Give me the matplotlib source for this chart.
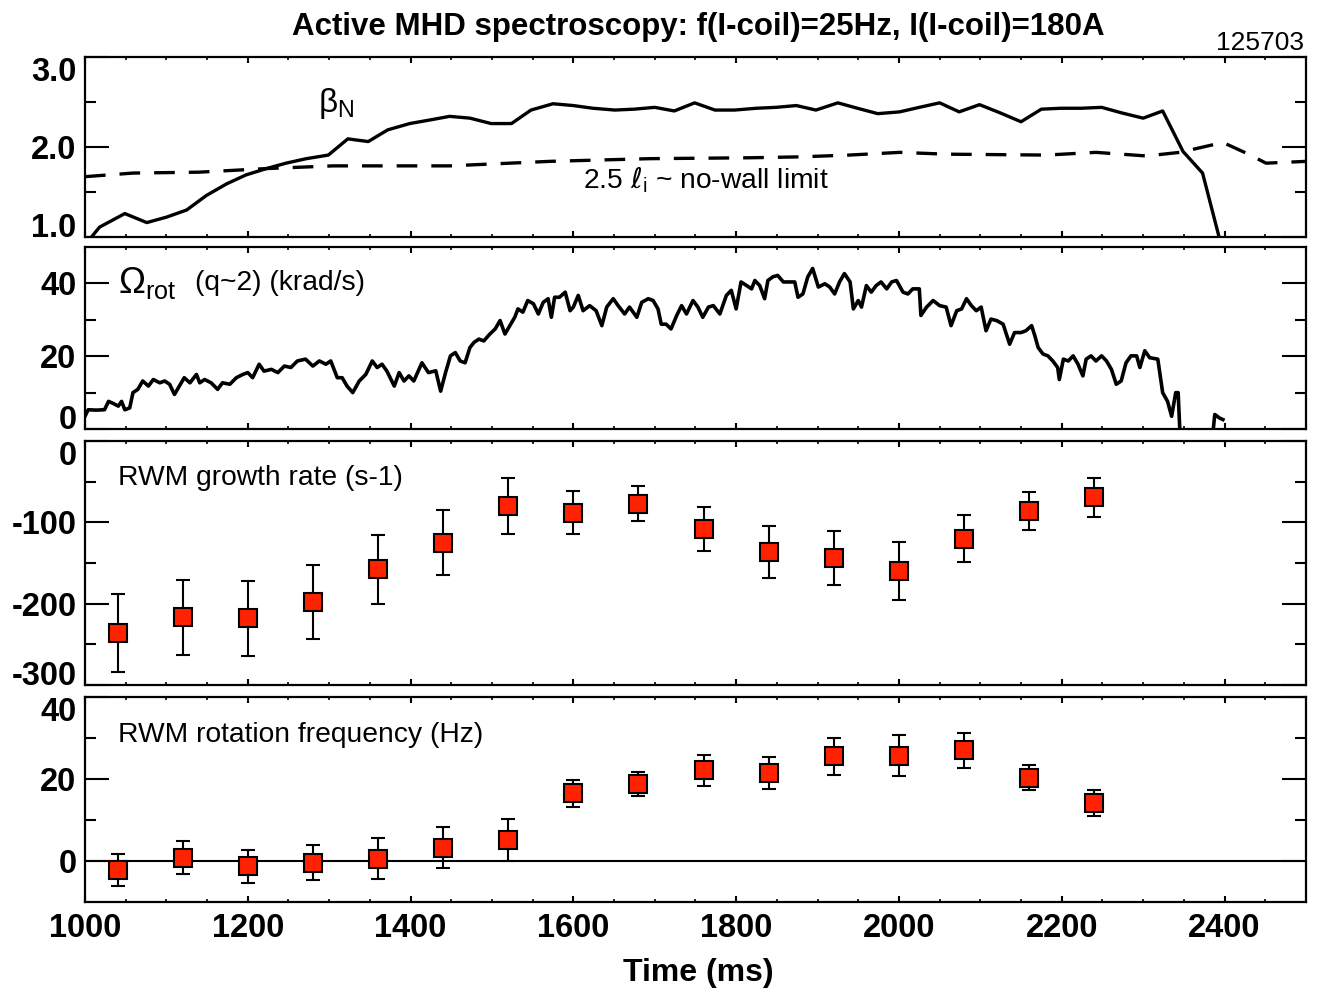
import matplotlib
matplotlib.use('agg')
import matplotlib.pyplot as plt
import numpy as np

# beta_N trace
beta_t = [1008, 1018, 1049, 1076, 1100, 1125, 1149, 1174, 1198, 1223, 1247, 1272, 1299,
          1323, 1348, 1372, 1399, 1424, 1448, 1473, 1499, 1524, 1548, 1575, 1600, 1624,
          1651, 1675, 1700, 1724, 1749, 1774, 1798, 1825, 1849, 1874, 1898, 1925, 1949,
          1974, 2001, 2025, 2050, 2074, 2099, 2124, 2150, 2175, 2199, 2224, 2249, 2273,
          2300, 2324, 2349, 2373, 2393, 2400]
beta_n = [1.00, 1.11, 1.26, 1.16, 1.22, 1.30, 1.46, 1.59, 1.69, 1.76, 1.82, 1.87, 1.91,
          2.09, 2.06, 2.19, 2.26, 2.30, 2.34, 2.32, 2.26, 2.26, 2.41, 2.48, 2.46, 2.43,
          2.41, 2.42, 2.44, 2.40, 2.49, 2.41, 2.41, 2.43, 2.44, 2.46, 2.41, 2.49, 2.43,
          2.37, 2.39, 2.44, 2.49, 2.39, 2.47, 2.38, 2.28, 2.42, 2.43, 2.43, 2.44, 2.38,
          2.32, 2.40, 1.95, 1.71, 1.01, 0.80]

# 2.5 li (no-wall limit), dashed
li_t = [1000, 1059, 1140, 1223, 1305, 1448, 1571, 1694, 1817, 1878, 1939, 2001, 2058,
        2181, 2242, 2304, 2345, 2398, 2427, 2451, 2500]
li_lim = [1.67, 1.71, 1.72, 1.76, 1.79, 1.79, 1.84, 1.87, 1.88, 1.89, 1.91, 1.94, 1.92,
          1.91, 1.94, 1.90, 1.94, 2.05, 1.93, 1.82, 1.84]

# rotation at q~2 (krad/s)
omega_t = [1000, 1004, 1014, 1024, 1029, 1035, 1041, 1045, 1049, 1055, 1059, 1065, 1071,
           1078, 1084, 1092, 1098, 1104, 1110, 1116, 1122, 1129, 1137, 1141, 1147, 1155,
           1163, 1169, 1178, 1186, 1194, 1200, 1206, 1214, 1220, 1229, 1237, 1245, 1253,
           1261, 1271, 1280, 1288, 1296, 1302, 1310, 1316, 1322, 1329, 1337, 1345, 1353,
           1359, 1365, 1371, 1380, 1386, 1392, 1398, 1404, 1414, 1422, 1431, 1437, 1443,
           1449, 1455, 1461, 1467, 1473, 1478, 1484, 1490, 1497, 1504, 1510, 1516, 1522,
           1528, 1532, 1538, 1544, 1551, 1557, 1563, 1569, 1573, 1577, 1583, 1590, 1596,
           1600, 1606, 1612, 1620, 1628, 1635, 1641, 1649, 1655, 1663, 1669, 1678, 1684,
           1692, 1698, 1704, 1708, 1714, 1720, 1727, 1733, 1739, 1747, 1753, 1759, 1766,
           1772, 1780, 1788, 1794, 1800, 1806, 1813, 1819, 1823, 1829, 1835, 1839, 1845,
           1851, 1858, 1866, 1872, 1876, 1882, 1888, 1894, 1901, 1909, 1915, 1921, 1927,
           1933, 1940, 1944, 1950, 1954, 1960, 1966, 1972, 1978, 1985, 1991, 1997, 2005,
           2011, 2017, 2025, 2027, 2034, 2042, 2050, 2058, 2064, 2071, 2077, 2083, 2089,
           2095, 2101, 2107, 2113, 2120, 2128, 2136, 2142, 2150, 2156, 2163, 2167, 2171,
           2177, 2183, 2189, 2195, 2197, 2202, 2208, 2214, 2220, 2226, 2230, 2236, 2242,
           2249, 2255, 2261, 2267, 2273, 2279, 2285, 2292, 2296, 2302, 2308, 2318, 2324,
           2330, 2335, 2340, 2343, 2345, 2347, 2361, 2384, 2388, 2394, 2398]
omega = [3.5, 5.3, 5.2, 5.3, 7.6, 7.0, 6.3, 7.6, 5.3, 5.8, 10.0, 10.9, 13.2,
         11.8, 13.6, 12.7, 13.2, 12.3, 9.5, 11.8, 14.1, 12.7, 15.0, 12.7, 13.6, 12.7,
         10.9, 12.7, 12.3, 14.1, 15.0, 15.5, 14.1, 17.8, 15.9, 16.4, 15.5, 17.3, 16.9,
         18.7, 19.2, 17.3, 18.7, 17.8, 18.7, 14.1, 14.1, 11.8, 10.0, 13.2, 15.0, 18.7,
         16.9, 17.8, 15.9, 11.8, 15.5, 13.2, 14.6, 13.2, 18.2, 15.5, 16.0, 10.4, 15.5,
         20.1, 21.0, 18.7, 18.2, 22.4, 23.8, 24.7, 24.2, 26.0, 27.5, 29.8, 26.1, 28.4,
         30.7, 33.0, 32.1, 35.3, 34.4, 31.6, 34.8, 35.8, 30.7, 36.2, 36.2, 37.6, 32.5,
         33.5, 36.7, 32.5, 33.9, 32.5, 28.4, 33.5, 35.8, 33.9, 31.6, 33.5, 30.7, 34.8,
         35.8, 35.3, 33.0, 28.8, 28.8, 27.5, 31.2, 33.9, 31.6, 35.3, 33.5, 30.7, 33.5,
         33.9, 31.6, 36.7, 38.1, 33.0, 40.4, 39.4, 38.5, 40.8, 39.4, 35.8, 40.8, 41.8,
         42.2, 40.4, 40.4, 40.4, 36.2, 37.1, 41.8, 44.1, 39.0, 39.9, 39.0, 37.1, 40.4,
         42.7, 40.4, 33.0, 35.3, 33.5, 39.4, 37.6, 39.4, 40.4, 38.5, 40.4, 40.8, 37.6,
         37.1, 38.5, 38.5, 31.2, 33.5, 35.3, 33.9, 33.5, 28.4, 32.5, 33.0, 35.8, 33.9,
         32.5, 33.5, 27.0, 30.2, 29.8, 28.8, 23.3, 26.5, 26.5, 27.0, 28.4, 25.6, 22.4,
         20.6, 20.1, 18.7, 16.9, 13.6, 19.2, 18.7, 20.1, 17.8, 14.6, 19.2, 20.1, 18.7,
         20.1, 18.7, 16.4, 12.3, 13.2, 18.2, 20.1, 20.1, 16.9, 21.5, 19.6, 19.2, 10.0,
         7.6, 3.5, 10.0, 10.0, 0.0, -4.8, -5.0, -4.8, 4.0, 3.0, 2.6]

# RWM spectroscopy points
t_rwm = [1040, 1120, 1200, 1280, 1360, 1440, 1520, 1600, 1680, 1760, 1840, 1920,
         2000, 2080, 2160, 2240]
growth = [-236, -217, -218, -198, -158, -125, -80, -88, -77, -108, -136, -144,
          -160, -120, -86, -69]
growth_err = [48, 46, 46, 45, 42, 40, 34, 26, 22, 27, 32, 33, 36, 29, 23, 24]
freq = [-2.2, 0.8, -1.3, -0.4, 0.6, 3.2, 5.1, 16.5, 18.8, 22.1, 21.5, 25.5,
        25.7, 27.0, 20.3, 14.1]
freq_err = [4.0, 4.0, 4.0, 4.2, 5.0, 5.0, 5.1, 3.3, 3.0, 3.8, 3.9, 4.5, 5.0, 4.3, 3.0, 3.1]

plt.rcParams['font.family'] = ['Liberation Sans', 'DejaVu Sans']
plt.rcParams['mathtext.fontset'] = 'custom'
plt.rcParams['mathtext.rm'] = 'Liberation Sans'
plt.rcParams['mathtext.it'] = 'Liberation Sans'
plt.rcParams['mathtext.sf'] = 'DejaVu Sans:italic'
plt.rcParams['mathtext.fallback'] = 'stixsans'

TICK_FS = 23.5
LAB_FS = 20.3
RED = '#ff2200'


def style_axis(ax, ylo, yhi, major, minor, labels):
    ax.set_xlim(1000, 2500)
    ax.set_ylim(ylo, yhi)
    ax.set_xticks(np.arange(1000, 2401, 200))
    ax.set_xticks(np.arange(1000, 2501, 50), minor=True)
    ax.set_yticks(major)
    ax.set_yticklabels(labels)
    ax.set_yticks(minor, minor=True)
    ax.tick_params(axis='both', which='both', direction='in', top=True, right=True)
    ax.tick_params(axis='y', which='major', length=17, width=1.5, pad=6, labelsize=TICK_FS)
    ax.tick_params(axis='y', which='minor', length=8, width=1.5)
    ax.tick_params(axis='x', which='major', length=4, width=1.5, pad=8, labelsize=TICK_FS)
    ax.tick_params(axis='x', which='minor', length=2.2, width=1.2)
    for s in ax.spines.values():
        s.set_linewidth(1.6)
    for lab in ax.get_yticklabels() + ax.get_xticklabels():
        lab.set_fontweight('bold')
    # keep edge labels inside the frame
    for v, tick in zip(major, ax.yaxis.get_major_ticks(len(major))):
        if abs(v - yhi) < 1e-9:
            tick.label1.set_verticalalignment('top')
        elif abs(v - ylo) < 1e-9:
            tick.label1.set_verticalalignment('baseline')


fig = plt.figure(figsize=(13.21, 9.92), dpi=100)
L, W = 0.0643, 0.9243
ax1 = fig.add_axes([L, 0.7611, W, 0.1815])
ax2 = fig.add_axes([L, 0.5675, W, 0.1835])
ax3 = fig.add_axes([L, 0.3095, W, 0.2460])
ax4 = fig.add_axes([L, 0.0907, W, 0.2067])

# panel 1
ax1.plot(beta_t, beta_n, color='black', lw=2.4)
ax1.plot(li_t, li_lim, color='black', lw=2.4, dashes=(6.2, 4.2))
style_axis(ax1, 1.0, 3.0, [1.0, 2.0, 3.0], [1.5, 2.5], ['1.0', '2.0', '3.0'])
ax1.text(0.191, 0.744, r'$\beta_{\rm N}$', transform=ax1.transAxes, fontsize=24,
         ha='left', va='center')
ax1.text(0.408, 0.317, r'2.5 $\mathsf{\ell}_{\rm i}$ ~ no-wall limit',
         transform=ax1.transAxes, fontsize=LAB_FS, ha='left', va='center')

# panel 2
ax2.plot(omega_t, omega, color='black', lw=2.6)
style_axis(ax2, 0, 50, [0, 20, 40], [10, 30], ['0', '20', '40'])
ax2.text(0.027, 0.80, r'$\Omega_{\rm rot}$', transform=ax2.transAxes,
         fontsize=26, ha='left', va='center')
ax2.text(0.090, 0.80, '(q~2) (krad/s)', transform=ax2.transAxes,
         fontsize=LAB_FS, ha='left', va='center')

# panel 3
ax3.errorbar(t_rwm, growth, yerr=growth_err, fmt='s', color='black', ecolor='black',
             elinewidth=1.5, capsize=5, capthick=1.5, markersize=12.5,
             markerfacecolor=RED, markeredgecolor='black', markeredgewidth=1.5)
style_axis(ax3, -300, 0, [-300, -200, -100, 0], [-250, -150, -50],
           ['-300', '-200', '-100', '0'])
ax3.text(0.027, 0.848, 'RWM growth rate (s-1)', transform=ax3.transAxes,
         fontsize=LAB_FS, ha='left', va='center')

# panel 4
ax4.axhline(0, color='black', lw=1.5)
ax4.errorbar(t_rwm, freq, yerr=freq_err, fmt='s', color='black', ecolor='black',
             elinewidth=1.5, capsize=5, capthick=1.5, markersize=12.5,
             markerfacecolor=RED, markeredgecolor='black', markeredgewidth=1.5)
style_axis(ax4, -10, 40, [0, 20, 40], [10, 30], ['0', '20', '40'])
ax4.text(0.027, 0.815, 'RWM rotation frequency (Hz)', transform=ax4.transAxes,
         fontsize=LAB_FS, ha='left', va='center')

for ax in (ax1, ax2, ax3):
    ax.tick_params(axis='x', labelbottom=False)

fig.text(0.5284, 0.973, 'Active MHD spectroscopy: f(I-coil)=25Hz, I(I-coil)=180A',
         ha='center', va='center', fontsize=22.5, fontweight='bold')
fig.text(0.9875, 0.957, '125703', ha='right', va='center', fontsize=19)
fig.text(0.5284, 0.019, 'Time (ms)', ha='center', va='center', fontsize=23,
         fontweight='bold')

fig.savefig('out.png', dpi=100)
